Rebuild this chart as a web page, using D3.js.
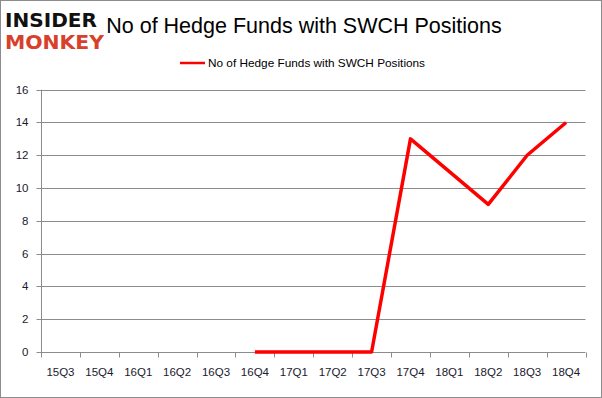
<!DOCTYPE html>
<html><head><meta charset="utf-8">
<script src="https://cdn.jsdelivr.net/npm/d3@7"></script>
<style>body{margin:0;background:#fff}svg{display:block}</style>
</head><body>
<script>
const categories = ["15Q3","15Q4","16Q1","16Q2","16Q3","16Q4","17Q1","17Q2","17Q3","17Q4","18Q1","18Q2","18Q3","18Q4"];
const values = [null,null,null,null,null,0,0,0,0,13,11,9,12,14];
const yTicks = [0,2,4,6,8,10,12,14,16];
const seriesName = "No of Hedge Funds with SWCH Positions";
const titleText = "No of Hedge Funds with SWCH Positions";

const W = 602, H = 398;
const svg = d3.select("body").append("svg").attr("width", W).attr("height", H);
svg.append("rect").attr("x",0.5).attr("y",0.5).attr("width",W-1).attr("height",H-1)
  .attr("fill","#fff").attr("stroke","#8c8c8c");

const x = d3.scaleBand().domain(categories).range([41,585.5]);
const y = d3.scaleLinear().domain([0,16]).range([352,89.7]);
const font = "'Liberation Sans', Arial, sans-serif";

// gridlines
svg.append("g").selectAll("line").data(yTicks.filter(d=>d>0)).join("line")
  .attr("x1",41).attr("x2",585.5).attr("y1",d=>Math.round(y(d))+0.5).attr("y2",d=>Math.round(y(d))+0.5)
  .attr("stroke","#8c8c8c").attr("stroke-width",1);

// y axis
const ya = svg.append("g").attr("transform","translate(41.5,0)")
  .call(d3.axisLeft(y).tickValues(yTicks).tickSize(5).tickPadding(8));
ya.select(".domain").attr("stroke","#8c8c8c").attr("d","M0,"+y(16)+"V"+(y(0)+5));
ya.selectAll(".tick line").attr("stroke","#8c8c8c");
ya.selectAll(".tick").attr("transform",d=>"translate(0,"+(Math.round(y(d))+0.5)+")");
ya.selectAll("text").attr("font-family",font).attr("font-size",11.5).attr("fill","#1a1a2e");

// x axis
const xa = svg.append("g").attr("transform","translate(0,352.5)")
  .call(d3.axisBottom(x).tickSize(0).tickPadding(15));
xa.select(".domain").attr("stroke","#8c8c8c").attr("d","M41,0H585.5");
xa.selectAll("text").attr("font-family",font).attr("font-size",11.5).attr("fill","#1a1a2e");
const edges = categories.map(c=>x(c)).concat([x.range()[1]]);
xa.append("g").selectAll("line").data(edges).join("line")
  .attr("x1",d=>Math.round(d)+0.5).attr("x2",d=>Math.round(d)+0.5).attr("y1",0).attr("y2",5)
  .attr("stroke","#8c8c8c");

// line
const line = d3.line().defined(d=>d.v!==null)
  .x(d=>x(d.c)+x.bandwidth()/2).y(d=>y(d.v));
svg.append("path").datum(categories.map((c,i)=>({c,v:values[i]})))
  .attr("d",line).attr("fill","none").attr("stroke","#ff0000").attr("stroke-width",3.5)
  .attr("stroke-linejoin","round");

// title
svg.append("text").attr("x",304).attr("y",33).attr("text-anchor","middle")
  .attr("font-family",font).attr("font-size",21.5).attr("fill","#000").text(titleText);

// legend
svg.append("line").attr("x1",180).attr("x2",205).attr("y1",63).attr("y2",63)
  .attr("stroke","#ff0000").attr("stroke-width",2.5);
svg.append("text").attr("x",208).attr("y",67).attr("font-family",font).attr("font-size",11.8)
  .attr("fill","#000").text(seriesName);

// logo (drawn over the title, as in the reference)
svg.append("rect").attr("x",3).attr("y",8).attr("width",101).attr("height",44).attr("fill","#fff");
svg.append("text").attr("x",5).attr("y",27).attr("font-family","'DejaVu Sans', sans-serif")
  .attr("font-weight","bold").attr("font-size",19).attr("textLength",92).attr("lengthAdjust","spacingAndGlyphs")
  .attr("fill","#111").text("INSIDER");
svg.append("text").attr("x",5).attr("y",49).attr("font-family","'DejaVu Sans', sans-serif")
  .attr("font-weight","bold").attr("font-size",19).attr("textLength",99).attr("lengthAdjust","spacingAndGlyphs")
  .attr("fill","#d9402b").text("MONKEY");
</script>
</body></html>
